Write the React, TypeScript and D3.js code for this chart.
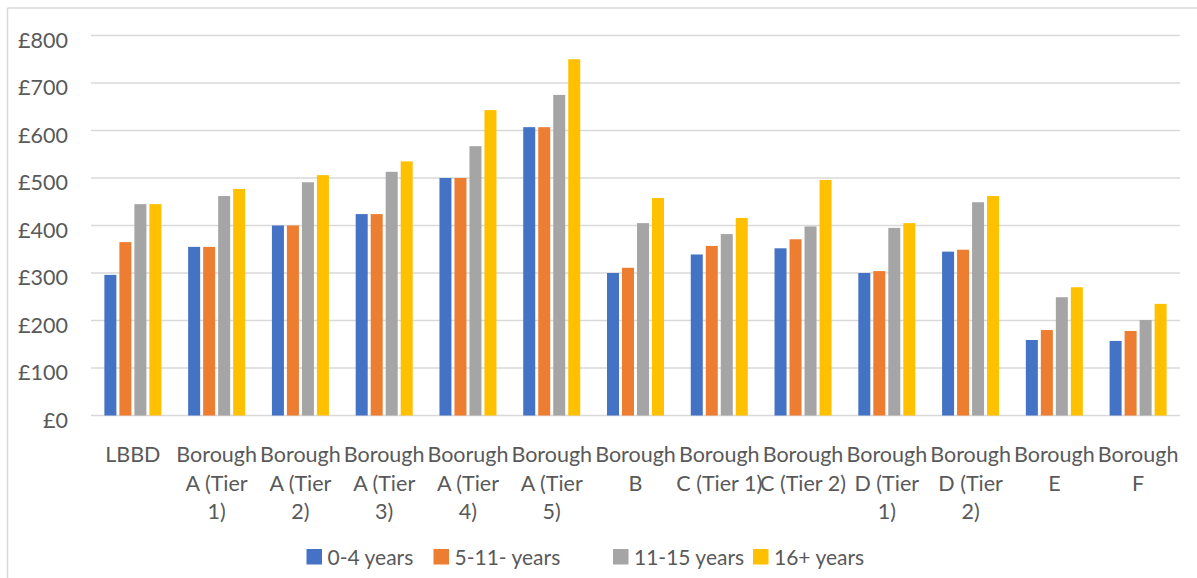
import React from "react";
import * as d3 from "d3";

const categories: string[][] = [
  ["LBBD"],
  ["Borough", "A (Tier", "1)"],
  ["Borough", "A (Tier", "2)"],
  ["Borough", "A (Tier", "3)"],
  ["Boorugh", "A (Tier", "4)"],
  ["Borough", "A (Tier", "5)"],
  ["Borough", "B"],
  ["Borough", "C (Tier 1)"],
  ["Borough", "C (Tier 2)"],
  ["Borough", "D (Tier", "1)"],
  ["Borough", "D (Tier", "2)"],
  ["Borough", "E"],
  ["Borough", "F"],
];

const seriesNames = ["0-4 years", "5-11- years", "11-15 years", "16+ years"];
const seriesColors = ["#4472C4", "#ED7D31", "#A5A5A5", "#FFC000"];

const age0to4 = [296, 355, 400, 424, 500, 607, 300, 339, 352, 300, 345, 159, 157];
const age5to11 = [365, 355, 400, 424, 500, 607, 311, 357, 371, 304, 349, 180, 178];
const age11to15 = [445, 462, 491, 513, 567, 675, 405, 382, 398, 395, 449, 249, 201];
const age16plus = [445, 477, 506, 535, 643, 750, 458, 416, 496, 405, 462, 270, 235];

const seriesValues = [age0to4, age5to11, age11to15, age16plus];
const yTicks = [0, 100, 200, 300, 400, 500, 600, 700, 800];

const W = 1197;
const H = 578;
const left = 91;
const right = 1180;
const y0 = 415.5;
const y800 = 35.5;
const font = "Lato, 'Open Sans', sans-serif";
const textColor = "#595959";

export default function App() {
  const x = d3
    .scaleBand<number>()
    .domain(categories.map((_, i) => i))
    .range([left, right])
    .paddingInner(0)
    .paddingOuter(0);
  const y = d3.scaleLinear().domain([0, 800]).range([y0, y800]);
  const barW = 12;
  const pitch = 15;
  const groupW = pitch * 3 + barW;

  const legendX = [306.5, 433.5, 613, 753];

  return (
    <svg
      width={W}
      height={H}
      style={{ position: "absolute", left: 0, top: 0, display: "block" }}
    >
      <rect x={0} y={0} width={W} height={H} fill="#fff" />
      <line x1={7.5} x2={W} y1={8} y2={8} stroke="#d9d9d9" strokeWidth={1.5} />
      <line x1={7.5} x2={7.5} y1={8} y2={H} stroke="#d9d9d9" strokeWidth={1.5} />
      {yTicks.map((t) => (
        <g key={t}>
          <line
            x1={left}
            x2={right}
            y1={y(t)}
            y2={y(t)}
            stroke="#d9d9d9"
            strokeWidth={1.5}
          />
          <text
            x={68}
            y={y(t) + 4.5}
            dy="0.36em"
            textAnchor="end"
            fontFamily={font}
            fontSize={21.5}
            fill={textColor}
          >
            {"£" + t}
          </text>
        </g>
      ))}
      {categories.map((_, ci) => {
        const cx = (x(ci) as number) + x.bandwidth() / 2;
        const start = cx - groupW / 2;
        return (
          <g key={ci}>
            {seriesValues.map((vals, si) => (
              <rect
                key={si}
                x={start + si * pitch}
                y={y(vals[ci])}
                width={barW}
                height={y0 - y(vals[ci])}
                fill={seriesColors[si]}
              />
            ))}
          </g>
        );
      })}
      {categories.map((lines, ci) => {
        const cx = (x(ci) as number) + x.bandwidth() / 2;
        return (
          <text
            key={ci}
            textAnchor="middle"
            fontFamily={font}
            fontSize={21.5}
            fill={textColor}
          >
            {lines.map((l, li) => (
              <tspan key={li} x={cx} y={462 + li * 28.5}>
                {l}
              </tspan>
            ))}
          </text>
        );
      })}
      {seriesNames.map((n, si) => (
        <g key={n}>
          <rect
            x={legendX[si]}
            y={549}
            width={15.5}
            height={15.5}
            fill={seriesColors[si]}
          />
          <text
            x={legendX[si] + 21}
            y={557}
            dy="0.36em"
            fontFamily={font}
            fontSize={21}
            fill={textColor}
          >
            {n}
          </text>
        </g>
      ))}
    </svg>
  );
}
